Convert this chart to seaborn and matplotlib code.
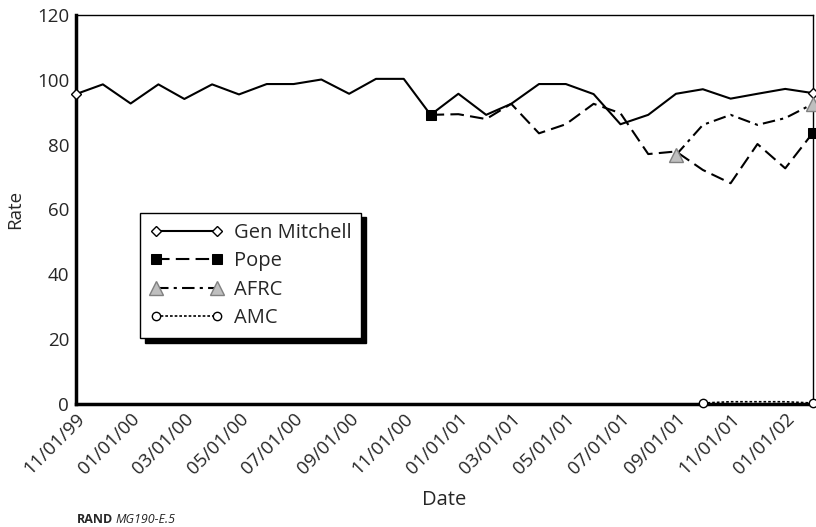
import pandas as pd
import matplotlib
matplotlib.use("Agg")
import matplotlib.pyplot as plt
import matplotlib.dates as mdates
import seaborn as sns

sns.set_style("white")
plt.rcParams['font.family'] = ['Open Sans', 'DejaVu Sans']

months = pd.date_range("1999-11-01", "2002-02-01", freq="MS")

gen_mitchell = [95.6, 98.6, 92.7, 98.6, 94.1, 98.6, 95.5, 98.7, 98.7, 100.1,
                95.7, 100.3, 100.3, 89.2, 95.7, 89.2, 92.6, 98.7, 98.7, 95.6,
                86.3, 89.2, 95.7, 97.1, 94.2, 95.7, 97.2, 95.9]
pope = [89.2, 89.4, 87.9, 92.6, 83.5, 86.3, 92.6, 89.7, 77.1, 77.9,
        72.2, 68.1, 80.2, 72.7, 83.7]
afrc = [76.8, 86.1, 89.2, 86.1, 88.2, 92.6]
amc = [0.3, 0.7, 0.7, 0.7, 0.3]

series = {
    "Gen Mitchell": gen_mitchell,
    "Pope": pope,
    "AFRC": afrc,
    "AMC": amc,
}

styles = {
    "Gen Mitchell": dict(marker="D", markersize=5, markerfacecolor="white",
                         markeredgecolor="black", markeredgewidth=1, linestyle="-"),
    "Pope": dict(marker="s", markersize=7, markerfacecolor="black",
                 markeredgecolor="black", linestyle=(0, (6.5, 3))),
    "AFRC": dict(marker="^", markersize=10, markerfacecolor="#bfbfbf",
                 markeredgecolor="#808080", markeredgewidth=1,
                 linestyle=(0, (6, 2.5, 1.5, 2.5))),
    "AMC": dict(marker="o", markersize=6, markerfacecolor="white",
                markeredgecolor="black", markeredgewidth=1, linestyle=(0, (1.6, 1.2))),
}

frames = []
for name, vals in series.items():
    frames.append(pd.DataFrame({"Date": months[-len(vals):], "Rate": vals, "Base": name}))
df = pd.concat(frames, ignore_index=True)

fig = plt.figure(figsize=(8.16, 5.27), dpi=100)
ax = fig.add_axes([76 / 816, 1 - 404 / 527, 737 / 816, 389 / 527])

for name in series:
    sub = df[df["Base"] == name]
    lw = 1.2 if name == "AMC" else 1.5
    sns.lineplot(data=sub, x="Date", y="Rate", ax=ax, color="black", linewidth=lw,
                 markevery=[0, len(sub) - 1], label=name, clip_on=False,
                 zorder=5, **styles[name])

ax.set_xlim(months[0], months[-1])
ax.set_ylim(0, 120)
ax.set_yticks(range(0, 121, 20))
ax.set_xticks(months[::2])
ax.xaxis.set_major_formatter(mdates.DateFormatter("%m/%d/%y"))
ax.tick_params(axis="y", direction="in", length=15, width=1, labelsize=13.5, pad=5)
ax.tick_params(axis="x", direction="in", length=12, width=1, labelsize=13.5, pad=4)
plt.setp(ax.get_xticklabels(), rotation=45, ha="right", rotation_mode="anchor")
for s in ["left", "bottom"]:
    ax.spines[s].set_linewidth(2.5)
    ax.spines[s].set_color("black")
for s in ["top", "right"]:
    ax.spines[s].set_linewidth(1)
    ax.spines[s].set_color("black")
ax.set_xlabel("Date", fontsize=14.5, va="center")
ax.xaxis.set_label_coords(0.5, (404 - 500) / 389)
ax.set_ylabel("Rate", fontsize=13.5, va="center")
ax.yaxis.set_label_coords((15 - 76) / 737, 0.5)

leg = ax.legend(loc="upper left", bbox_to_anchor=(0.087, 0.492), borderaxespad=0,
                fontsize=14.5, numpoints=2, handlelength=3.6, handletextpad=0.55,
                labelspacing=0.42, borderpad=0.5, fancybox=False, frameon=True,
                shadow={"ox": 3.5, "oy": -3.5, "color": "black", "alpha": 1})
leg.get_frame().set_edgecolor("black")
leg.get_frame().set_linewidth(1)
leg.get_frame().set_alpha(1)
leg.set_zorder(10)

fig.text(77 / 816, 1 - 523 / 527, "RAND", fontsize=9, fontweight="bold", va="baseline")
fig.text(115 / 816, 1 - 523 / 527, "MG190-E.5", fontsize=9, style="italic", va="baseline")

fig.savefig("out.png", dpi=100)
